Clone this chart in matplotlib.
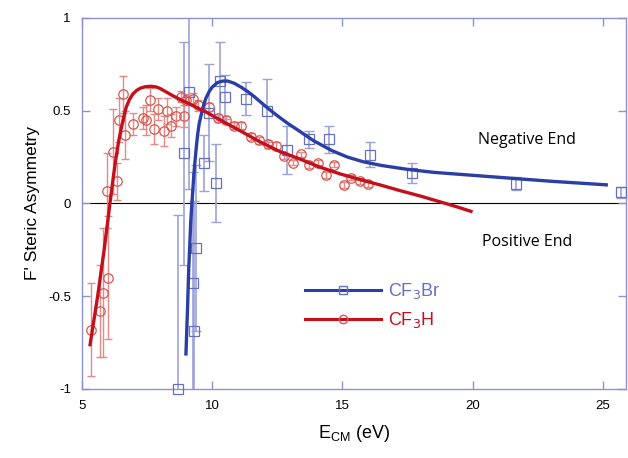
import matplotlib.pyplot as plt
from matplotlib.lines import Line2D

plt.rcParams['font.family'] = ['Liberation Sans', 'DejaVu Sans']

# CF3H data (circles)
h_x = [5.35, 5.69, 5.82, 6.01, 5.96, 6.18, 6.34, 6.43, 6.56, 6.66, 6.97, 7.33, 7.46,
       7.62, 7.78, 7.90, 8.13, 8.26, 8.42, 8.61, 8.80, 8.93, 8.99, 9.25, 9.44, 9.89,
       10.21, 10.53, 10.85, 11.10, 11.49, 11.81, 12.13, 12.45, 12.77, 13.09, 13.41,
       13.73, 14.07, 14.37, 14.69, 15.07, 15.35, 15.69, 15.99]
h_y = [-0.68, -0.58, -0.48, -0.40, 0.07, 0.28, 0.12, 0.45, 0.59, 0.37, 0.43, 0.46, 0.45,
       0.56, 0.40, 0.51, 0.39, 0.50, 0.42, 0.47, 0.575, 0.47, 0.56, 0.565, 0.53, 0.52,
       0.46, 0.45, 0.42, 0.42, 0.36, 0.34, 0.32, 0.31, 0.255, 0.22, 0.265,
       0.205, 0.22, 0.155, 0.21, 0.10, 0.14, 0.12, 0.106]
h_err = [0.25, 0.25, 0.35, 0.33, 0.20, 0.23, 0.10, 0.12, 0.10, 0.13, 0.06, 0.06, 0.08,
         0.06, 0.08, 0.06, 0.08, 0.07, 0.06, 0.05, 0.03, 0.06, 0.03, 0.03, 0.03, 0.02,
         0.02, 0.02, 0.02, 0.02, 0.02, 0.02, 0.02, 0.02, 0.015, 0.015, 0.015,
         0.015, 0.015, 0.015, 0.015, 0.015, 0.015, 0.015, 0.015]

# CF3Br data (squares)
br_x = [8.68, 8.93, 9.12, 9.25, 9.31, 9.38, 9.69, 9.89, 10.14, 10.31, 10.50, 11.30,
        12.10, 12.87, 13.73, 14.49, 16.07, 17.66, 21.68, 25.70]
br_y = [-1.00, 0.27, 0.60, -0.43, -0.685, -0.24, 0.22, 0.49, 0.11, 0.66, 0.575, 0.565,
        0.50, 0.29, 0.345, 0.345, 0.264, 0.165, 0.107, 0.061]
br_err = [0.94, 0.60, 0.52, 0.60, 0.70, 0.45, 0.15, 0.26, 0.21, 0.21, 0.12, 0.09,
          0.17, 0.13, 0.045, 0.075, 0.065, 0.055, 0.035, 0.03]

# fit curves
h_fit_x = [5.3, 5.6, 5.85, 6.1, 6.2, 6.3, 6.4, 6.5, 6.6, 6.7, 6.82, 6.95, 7.1, 7.25,
           7.45, 7.65, 7.85, 8.0, 8.25, 8.5, 8.75, 9.0, 9.4, 9.8, 10.4, 11.1, 11.8,
           12.6, 13.4, 14.1, 14.9, 15.7, 16.5, 17.2, 18.0, 18.8, 19.4, 20.0]
h_fit_y = [-0.77, -0.50, -0.25, 0.03, 0.14, 0.24, 0.33, 0.40, 0.465, 0.52, 0.56, 0.59,
           0.61, 0.622, 0.63, 0.632, 0.628, 0.62, 0.60, 0.58, 0.562, 0.545, 0.518,
           0.49, 0.443, 0.39, 0.335, 0.28, 0.238, 0.198, 0.16, 0.128, 0.098, 0.07,
           0.04, 0.007, -0.018, -0.045]
br_fit_x = [8.99, 9.05, 9.1, 9.18, 9.25, 9.31, 9.38, 9.44, 9.5, 9.63, 9.75, 9.89,
            10.0, 10.2, 10.4, 10.6, 10.85, 11.1, 11.35, 11.6, 11.85, 12.1, 12.35,
            12.6, 12.9, 13.3, 13.9, 14.6, 15.2, 15.8, 16.5, 17.5, 18.5, 20.0, 21.4,
            23.0, 25.2]
br_fit_y = [-0.82, -0.58, -0.35, -0.09, 0.06, 0.18, 0.29, 0.37, 0.43, 0.51, 0.565,
            0.605, 0.627, 0.652, 0.66, 0.66, 0.648, 0.628, 0.605, 0.578, 0.548, 0.518,
            0.49, 0.463, 0.432, 0.395, 0.338, 0.285, 0.25, 0.225, 0.205, 0.184,
            0.168, 0.152, 0.137, 0.12, 0.10]

red_mk = '#d9574f'
red_eb = '#e58a85'
red_ln = '#c4101c'
blue_mk = '#6470c4'
blue_eb = '#9ca2d8'
blue_ln = '#2b3ea6'
spine_c = '#8d92d2'

fig = plt.figure(figsize=(6.28, 4.58), dpi=100)
ax = fig.add_axes([0.1306, 0.1507, 0.8664, 0.81])

ax.axhline(0, color='black', linewidth=0.8, zorder=1)

ax.errorbar(br_x, br_y, yerr=br_err, fmt='none', ecolor=blue_eb, elinewidth=1.2,
            capsize=3.5, capthick=1.0, zorder=2)
ax.errorbar(h_x, h_y, yerr=h_err, fmt='none', ecolor=red_eb, elinewidth=1.0,
            capsize=3, capthick=1.0, zorder=2)
ax.plot(br_x, br_y, 's', color=blue_mk, mfc='none', ms=6.5, mew=0.9, clip_on=False, zorder=3)
ax.plot(h_x, h_y, 'o', color=red_mk, mfc='none', ms=6.8, mew=0.9, zorder=3)

ax.plot(br_fit_x, br_fit_y, color=blue_ln, linewidth=2.4, zorder=4,
        solid_capstyle='butt', solid_joinstyle='round')
ax.plot(h_fit_x, h_fit_y, color=red_ln, linewidth=2.4, zorder=4,
        solid_capstyle='butt', solid_joinstyle='round')

ax.set_xlim(5, 25.9)
ax.set_ylim(-1, 1)
ax.set_xticks([5, 10, 15, 20, 25])
ax.set_yticks([-1, -0.5, 0, 0.5, 1])
ax.set_yticklabels(['-1', '-0.5', '0', '0.5', '1'])
ax.tick_params(direction='in', length=6, width=1, color=spine_c, labelsize=9.5,
               top=True, right=True, pad=8)
for s in ax.spines.values():
    s.set_color(spine_c)
    s.set_linewidth(1.0)

ax.set_xlabel(r'E$_{\mathregular{CM}}$ (eV)', fontsize=13, labelpad=8)
ax.set_ylabel("F' Steric Asymmetry", fontsize=12.5, labelpad=6)

ax.text(22.1, 0.34, 'Negative End', fontsize=11.5, family='Open Sans',
        ha='center', va='center')
ax.text(22.1, -0.21, 'Positive End', fontsize=11.5, family='Open Sans',
        ha='center', va='center')

handles = [Line2D([], [], color=blue_ln, lw=2.2, marker='s', mfc='none', mec=blue_mk, ms=6),
           Line2D([], [], color=red_ln, lw=2.2, marker='o', mfc='none', mec=red_mk, ms=6)]
leg = ax.legend(handles, [r'CF$_3$Br', r'CF$_3$H'], loc='upper left',
                bbox_to_anchor=(0.38, 0.335), frameon=False, fontsize=13,
                handlelength=4.2, numpoints=1, labelspacing=0.5, handletextpad=0.4)
for t, c in zip(leg.get_texts(), [blue_mk, red_ln]):
    t.set_color(c)

fig.savefig('out.png', dpi=100)
